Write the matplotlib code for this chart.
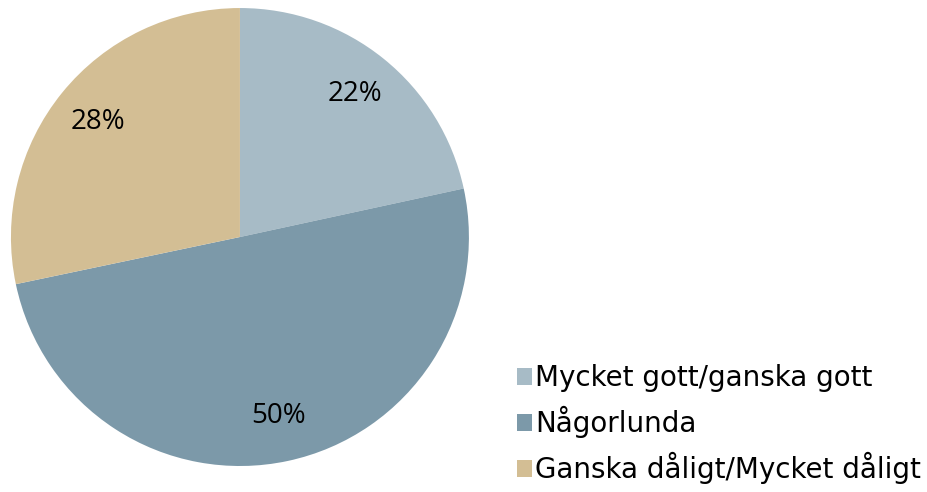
import matplotlib
matplotlib.use("Agg")
import matplotlib.pyplot as plt
from matplotlib.patches import Patch

labels = ["Mycket gott/ganska gott", "Någorlunda", "Ganska dåligt/Mycket dåligt"]
values = [21.6, 50.1, 28.3]
colors = ["#A7BBC6", "#7C99A9", "#D3BE94"]

fig = plt.figure(figsize=(9.28, 4.92), dpi=100)
ax = fig.add_axes([0.0118, 0.0528, 0.4935, 0.9309])
wedges, texts, autotexts = ax.pie(values, colors=colors, startangle=90, counterclock=False,
                                  autopct="%.0f%%", pctdistance=0.8, radius=1,
                                  textprops=dict(fontsize=20, family="Open Sans", color="black"))
ax.set_xlim(-1, 1)
ax.set_ylim(-1, 1)
ax.set_aspect("equal")

handles = [Patch(facecolor=c, edgecolor="none") for c in colors]
fig.legend(handles, labels, loc="upper left", bbox_to_anchor=(0.557, 0.26),
           frameon=False, prop=dict(family="DejaVu Sans", size=20),
           handlelength=0.55, handleheight=0.55, handletextpad=0.1, labelspacing=0.5,
           borderaxespad=0, borderpad=0)

fig.savefig("out.png", dpi=100)
